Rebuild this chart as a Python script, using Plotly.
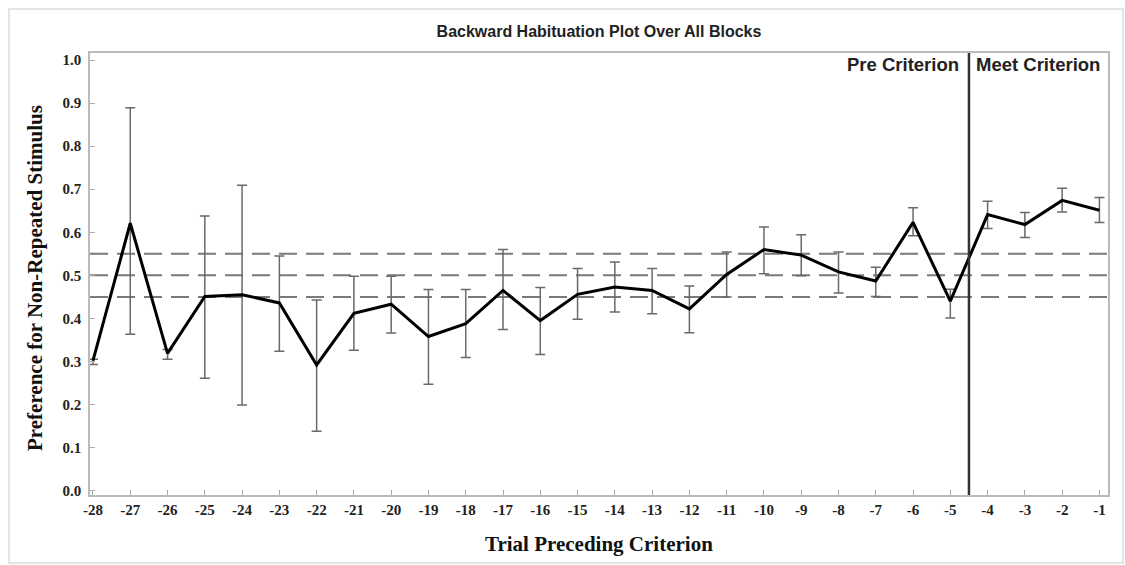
import plotly.graph_objects as go

trial = list(range(-28, 0))
mean_pref = [0.302, 0.621, 0.319, 0.451, 0.455, 0.436, 0.292, 0.412, 0.433, 0.358,
             0.388, 0.465, 0.395, 0.456, 0.473, 0.465, 0.422, 0.502, 0.560, 0.547,
             0.508, 0.487, 0.623, 0.440, 0.641, 0.618, 0.674, 0.651]
upper = [0.305, 0.889, 0.328, 0.638, 0.709, 0.545, 0.443, 0.498, 0.498, 0.467,
         0.467, 0.560, 0.472, 0.516, 0.531, 0.516, 0.475, 0.554, 0.612, 0.594,
         0.554, 0.519, 0.657, 0.468, 0.672, 0.646, 0.702, 0.681]
lower = [0.293, 0.363, 0.305, 0.261, 0.199, 0.324, 0.138, 0.326, 0.366, 0.247,
         0.309, 0.374, 0.316, 0.398, 0.415, 0.411, 0.367, 0.450, 0.504, 0.499,
         0.459, 0.451, 0.592, 0.401, 0.609, 0.588, 0.647, 0.623]
ref_lines = [0.45, 0.50, 0.55]
divider_x = -4.5
y_ticks = [0.0, 0.1, 0.2, 0.3, 0.4, 0.5, 0.6, 0.7, 0.8, 0.9, 1.0]

err_plus = [u - m for u, m in zip(upper, mean_pref)]
err_minus = [m - l for m, l in zip(mean_pref, lower)]

# layout geometry (pixels)
W, H = 1125, 565
L, R, T, B = 90, 17, 53, 70
PW, PH = W - L - R, H - T - B


def px_x(px):
    return (px - L) / PW


def px_y(py):
    return (H - B - py) / PH


fig = go.Figure()
for yv in ref_lines:
    fig.add_hline(y=yv, line=dict(color="#7a7a7a", width=2, dash="18px,9px"), layer="below")

fig.add_trace(go.Scatter(
    x=trial, y=mean_pref, mode="lines",
    line=dict(color="black", width=3),
    error_y=dict(type="data", symmetric=False, array=err_plus, arrayminus=err_minus,
                 color="#6a6a6a", thickness=1.5, width=5),
    showlegend=False,
))

fig.add_vline(x=divider_x, line=dict(color="#333333", width=2.5))

serif = "Liberation Serif, Times New Roman, serif"
sans = "Liberation Sans, Arial, sans-serif"

fig.add_annotation(x=divider_x, y=1.0, xref="x", yref="paper", text="<b>Pre Criterion</b>",
                   showarrow=False, xanchor="right", yanchor="top", xshift=-8, yshift=1,
                   font=dict(family=sans, size=18.5, color="#222"))
fig.add_annotation(x=divider_x, y=1.0, xref="x", yref="paper", text="<b>Meet Criterion</b>",
                   showarrow=False, xanchor="left", yanchor="top", xshift=5, yshift=1,
                   font=dict(family=sans, size=18.5, color="#222"))

# axis titles
fig.add_annotation(x=px_x(35), y=px_y(278), xref="paper", yref="paper",
                   text="<b>Preference for Non-Repeated Stimulus</b>", textangle=-90,
                   showarrow=False, xanchor="center", yanchor="middle",
                   font=dict(family=serif, size=21, color="#111"))
fig.add_annotation(x=px_x(599), y=px_y(544), xref="paper", yref="paper",
                   text="<b>Trial Preceding Criterion</b>",
                   showarrow=False, xanchor="center", yanchor="middle",
                   font=dict(family=serif, size=21, color="#111"))

# outer frame
fig.add_shape(type="rect", xref="paper", yref="paper",
              x0=px_x(9), x1=px_x(1123), y0=px_y(563), y1=px_y(9),
              line=dict(color="#dddddd", width=1.5), layer="below")

fig.update_layout(
    width=W, height=H,
    margin=dict(l=L, r=R, t=T, b=B),
    paper_bgcolor="white", plot_bgcolor="white",
    title=dict(text="<b>Backward Habituation Plot Over All Blocks</b>", x=px_x(599), xref="paper",
               xanchor="center", y=1 - 31 / H, yanchor="middle",
               font=dict(family=sans, size=16, color="#222")),
    xaxis=dict(range=[-28.08, -0.77], tickmode="array", tickvals=trial,
               ticktext=[str(t) for t in trial],
               ticks="inside", ticklen=5, tickcolor="#aaaaaa", tickwidth=1,
               showline=True, linecolor="#bbbbbb", linewidth=1.5, mirror=True,
               showgrid=False, zeroline=False, automargin=False, ticklabelstandoff=0,
               tickfont=dict(family=serif, size=15, color="#222", weight="bold")),
    yaxis=dict(range=[-0.010, 1.0163], tickmode="array", tickvals=y_ticks,
               ticktext=[f"{v:.1f}" for v in y_ticks],
               ticks="inside", ticklen=5, tickcolor="#aaaaaa", tickwidth=1,
               showline=True, linecolor="#bbbbbb", linewidth=1.5, mirror=True,
               showgrid=False, zeroline=False, automargin=False, ticklabelstandoff=4,
               tickfont=dict(family=serif, size=15, color="#222", weight="bold")),
)

fig.write_html("out.html", config={"displayModeBar": False},
               post_script="document.body.style.margin='0';")
